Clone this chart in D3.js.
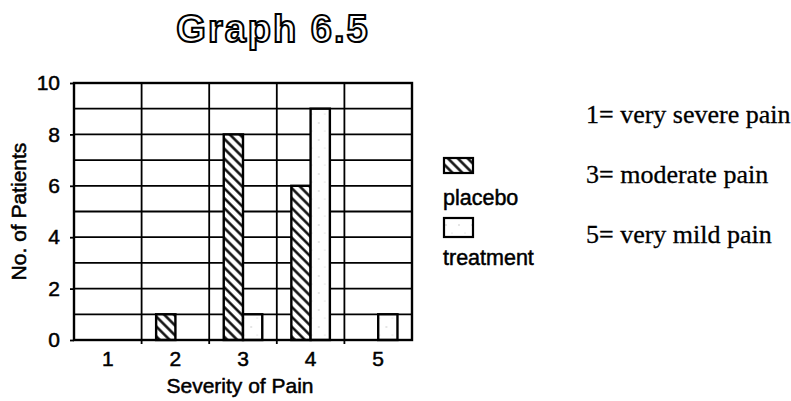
<!DOCTYPE html>
<html>
<head>
<meta charset="utf-8">
<script src="https://cdn.jsdelivr.net/npm/d3@7"></script>
<style>
    body { margin: 0; background: #fff; }
    text { font-family: "Liberation Sans", Arial, sans-serif; }
    .ink { stroke: #000; stroke-width: 0.5px; }
</style>
</head>
<body>
<div id="chart"></div>
<script>
// Data
const categories = ["1", "2", "3", "4", "5"];
const seriesNames = ["placebo", "treatment"];
const placebo = [0, 1, 8, 6, 0];
const treatment = [0, 0, 1, 9, 1];
const yTicks = [0, 2, 4, 6, 8, 10];
const notes = ["1= very severe pain", "3= moderate pain", "5= very mild pain"];

const width = 791, height = 401;
const plot = { left: 74, right: 412, top: 83, bottom: 340 };

const svg = d3.select("#chart").append("svg")
    .attr("width", width)
    .attr("height", height);

// Patterns: hatched placebo, speckled treatment
const defs = svg.append("defs");
const hatch = defs.append("pattern")
    .attr("id", "hatch")
    .attr("patternUnits", "userSpaceOnUse")
    .attr("width", 7)
    .attr("height", 7)
    .attr("patternTransform", "rotate(45)");
hatch.append("rect").attr("width", 7).attr("height", 7).attr("fill", "#fff");
hatch.append("line")
    .attr("x1", 0).attr("y1", 3.5).attr("x2", 7).attr("y2", 3.5)
    .attr("stroke", "#000").attr("stroke-width", 2.4);

const speck = defs.append("pattern")
    .attr("id", "speck")
    .attr("patternUnits", "userSpaceOnUse")
    .attr("width", 13)
    .attr("height", 17);
speck.append("rect").attr("width", 13).attr("height", 17).attr("fill", "#fff");
speck.append("circle").attr("cx", 3).attr("cy", 4).attr("r", 0.7).attr("fill", "#bbb");
speck.append("circle").attr("cx", 9).attr("cy", 12).attr("r", 0.6).attr("fill", "#ccc");

// Scales
const x0 = d3.scaleBand()
    .domain(categories)
    .range([plot.left, plot.right]);

const x1 = d3.scaleBand()
    .domain(seriesNames)
    .range([x0.bandwidth() * 0.215, x0.bandwidth() * 0.785]);

const y = d3.scaleLinear()
    .domain([0, 10])
    .range([plot.bottom, plot.top]);

// Grid lines
const grid = svg.append("g").attr("class", "grid");
grid.selectAll(".hgrid")
    .data(d3.range(0, 11))
    .join("line")
    .attr("x1", plot.left).attr("x2", plot.right)
    .attr("y1", d => y(d)).attr("y2", d => y(d))
    .attr("stroke", "#000").attr("stroke-width", 1.8);
grid.selectAll(".vgrid")
    .data(categories.slice(1))
    .join("line")
    .attr("x1", d => x0(d)).attr("x2", d => x0(d))
    .attr("y1", plot.top).attr("y2", plot.bottom)
    .attr("stroke", "#000").attr("stroke-width", 1.8);

// Bars
const rows = categories.map((c, i) => ({ cat: c, values: [
    { name: "placebo", value: placebo[i] },
    { name: "treatment", value: treatment[i] }
] }));

const groups = svg.append("g").selectAll("g")
    .data(rows)
    .join("g")
    .attr("transform", d => `translate(${x0(d.cat)},0)`);

groups.selectAll("rect")
    .data(d => d.values.filter(v => v.value > 0))
    .join("rect")
    .attr("x", d => x1(d.name))
    .attr("y", d => y(d.value))
    .attr("width", x1.bandwidth())
    .attr("height", d => y(0) - y(d.value))
    .attr("fill", d => d.name === "placebo" ? "url(#hatch)" : "url(#speck)")
    .attr("stroke", "#000")
    .attr("stroke-width", 2.4);

// Plot border
svg.append("rect")
    .attr("x", plot.left).attr("y", plot.top)
    .attr("width", plot.right - plot.left)
    .attr("height", plot.bottom - plot.top)
    .attr("fill", "none")
    .attr("stroke", "#000")
    .attr("stroke-width", 2.4);

// Axes
const yAxis = svg.append("g")
    .attr("transform", `translate(${plot.left},0)`)
    .call(d3.axisLeft(y).tickValues(yTicks).tickSize(4).tickPadding(10));
yAxis.select(".domain").remove();
yAxis.selectAll("text").attr("font-size", 21).attr("fill", "#000").attr("class", "ink")
    .style("font-family", "Liberation Sans, Arial, sans-serif");
yAxis.selectAll("line").attr("stroke-width", 1.8);

const xAxis = svg.append("g")
    .attr("transform", `translate(0,${plot.bottom})`)
    .call(d3.axisBottom(x0).tickSize(0).tickPadding(11));
xAxis.select(".domain").remove();
xAxis.selectAll("text").attr("font-size", 21).attr("fill", "#000").attr("class", "ink")
    .style("font-family", "Liberation Sans, Arial, sans-serif");

// small tick marks below at category boundaries
svg.append("g").selectAll("line")
    .data(categories.slice(1))
    .join("line")
    .attr("x1", d => x0(d)).attr("x2", d => x0(d))
    .attr("y1", plot.bottom).attr("y2", plot.bottom + 4)
    .attr("stroke", "#000").attr("stroke-width", 1.8);

// Axis titles
svg.append("text")
    .attr("class", "ink")
    .attr("x", (plot.left + plot.right) / 2 - 3)
    .attr("y", 393)
    .attr("text-anchor", "middle")
    .attr("font-size", 21)
    .text("Severity of Pain");

svg.append("text")
    .attr("class", "ink")
    .attr("transform", `translate(26,${(plot.top + plot.bottom) / 2}) rotate(-90)`)
    .attr("text-anchor", "middle")
    .attr("font-size", 21)
    .text("No. of Patients");

// Title (outlined letters)
svg.append("text")
    .attr("x", 273)
    .attr("y", 42)
    .attr("text-anchor", "middle")
    .attr("font-size", 38)
    .attr("font-weight", "bold")
    .attr("letter-spacing", 2)
    .attr("fill", "#fff")
    .attr("stroke", "#000")
    .attr("stroke-width", 2)
    .text("Graph 6.5");

// Legend
const legend = svg.append("g").attr("transform", "translate(443,0)");
const legendRows = [
    { name: "placebo", fill: "url(#hatch)", boxY: 158, boxH: 15, textY: 205 },
    { name: "treatment", fill: "url(#speck)", boxY: 218, boxH: 19, textY: 265 }
];
legend.selectAll("rect")
    .data(legendRows)
    .join("rect")
    .attr("x", 1).attr("y", d => d.boxY)
    .attr("width", 29).attr("height", d => d.boxH)
    .attr("fill", d => d.fill)
    .attr("stroke", "#000").attr("stroke-width", 2.2);
legend.selectAll("text")
    .data(legendRows)
    .join("text")
    .attr("class", "ink")
    .attr("x", 0).attr("y", d => d.textY)
    .attr("font-size", 21.5)
    .text(d => d.name);

// Notes on the right
svg.append("g").selectAll("text")
    .data(notes)
    .join("text")
    .attr("x", 586)
    .attr("y", (d, i) => 123 + i * 60)
    .attr("font-size", 26)
    .attr("stroke", "#000")
    .attr("stroke-width", 0.3)
    .style("font-family", "Liberation Serif, Times New Roman, serif")
    .text(d => d);
</script>
</body>
</html>
